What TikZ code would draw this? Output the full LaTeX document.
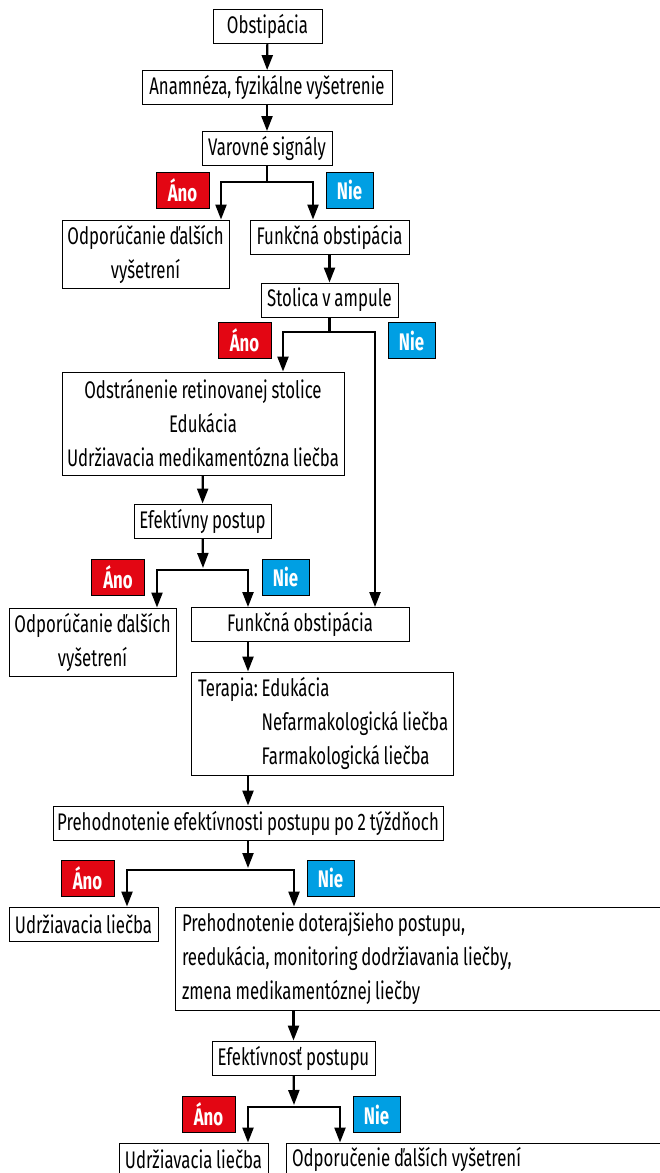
\documentclass[tikz,border=0pt]{standalone}
\usepackage{fontspec}
\setmainfont{Fira Sans}[FakeStretch=0.70, WordSpace=0.85]
\usepackage{tikz}
\usetikzlibrary{arrows.meta,positioning}
\definecolor{anored}{HTML}{E30613}
\definecolor{nieblue}{HTML}{009FE3}

\begin{document}
\begin{tikzpicture}[x=1pt,y=-1pt,
    >={Triangle[length=15pt,width=11pt]},
    line width=2.2pt,
    every node/.style={draw, line width=0.9pt, inner sep=0pt, minimum height=34pt,
      font=\fontsize{24}{34}\selectfont},
    ano/.style={fill=anored, text=white, minimum width=53pt, minimum height=36pt,
      font=\fontsize{24}{34}\selectfont\bfseries},
    nie/.style={fill=nieblue, text=white, minimum width=47pt, minimum height=36pt,
      font=\fontsize{24}{34}\selectfont\bfseries}]
  \useasboundingbox (0,0) rectangle (660,1173);

  \node[minimum width=109pt] (obst) at (267.5,26) {Obstipácia};
  \node[minimum width=250pt] (anam) at (267,87.5) {Anamnéza, fyzikálne vyšetrenie};
  \node[minimum width=130pt] (varov) at (267,148.5) {Varovné signály};
  \node[minimum width=167pt, minimum height=68pt, align=center] (odpor1) at (145.5,254)
    {Odporúčanie ďalších\\vyšetrení};
  \node[minimum width=159pt] (funk1) at (329.5,237) {Funkčná obstipácia};
  \node[minimum width=137pt] (stol) at (329.5,300) {Stolica v ampule};
  \node[minimum width=282pt, minimum height=103pt, align=center] (odstr) at (203,423.5)
    {Odstránenie retinovanej stolice\\Edukácia\\Udržiavacia medikamentózna liečba};
  \node[minimum width=137pt] (efekt) at (202.5,521) {Efektívny postup};
  \node[minimum width=167pt, minimum height=68pt, align=center] (odpor2) at (92.5,642)
    {Odporúčanie ďalších\\vyšetrení};
  \node[minimum width=218pt] (funk2) at (300,624.5) {Funkčná obstipácia};
  \node[minimum height=103pt, inner xsep=7pt] (terap) at (322,723.5)
    {\makebox[248pt][l]{\begin{tabular}{@{}l@{\ }l@{}}
      Terapia: & Edukácia\\
               & Nefarmakologická liečba\\
               & Farmakologická liečba
    \end{tabular}}};
  \node[minimum width=390pt] (preh) at (248,823) {Prehodnotenie efektívnosti postupu po 2 týždňoch};
  \node[minimum width=149pt] (udrz1) at (83.5,924) {Udržiavacia liečba};
  \node[minimum height=103pt, inner xsep=7pt] (prehd) at (418.5,958.5)
    {\makebox[473pt][l]{\begin{tabular}{@{}l@{}}
      Prehodnotenie doterajšieho postupu,\\
      reedukácia, monitoring dodržiavania liečby,\\
      zmena medikamentóznej liečby
    \end{tabular}}};
  \node[minimum width=163pt] (efns) at (293.5,1058) {Efektívnosť postupu};
  \node[minimum width=149pt, minimum height=32pt] (udrz2) at (193.5,1159) {Udržiavacia liečba};
  \node[inner xsep=6pt, minimum height=32pt] (odpor3) at (474,1159)
    {\makebox[364pt][l]{Odporučenie ďalších vyšetrení}};

  \node[ano] (ano1) at (182.5,190) {Áno};
  \node[nie] (nie1) at (349.5,190) {Nie};
  \node[ano] (ano2) at (244.5,340.5) {Áno};
  \node[nie] (nie2) at (411.5,340.5) {Nie};
  \node[ano] (ano3) at (118,577) {Áno};
  \node[nie] (nie3) at (285.5,577) {Nie};
  \node[ano] (ano4) at (87.5,878) {Áno};
  \node[nie] (nie4) at (330.5,878) {Nie};
  \node[ano] (ano5) at (208.5,1114.5) {Áno};
  \node[nie] (nie5) at (376.5,1114.5) {Nie};

  \coordinate (j1) at (267,182);
  \coordinate (j1l) at (221,182);
  \coordinate (j1r) at (313,182);
  \coordinate (j2) at (330,332);
  \coordinate (j2l) at (283,332);
  \coordinate (j2r) at (375,332);
  \coordinate (j3) at (203,568);
  \coordinate (j3l) at (157,570);
  \coordinate (j3r) at (248,570);
  \coordinate (j4) at (248,868);
  \coordinate (j4l) at (127,870);
  \coordinate (j4r) at (294,870);
  \coordinate (j5) at (294,1105);
  \coordinate (j5l) at (248,1107);
  \coordinate (j5r) at (340,1107);

  \draw[->] (obst) -- (anam);
  \draw[->] (anam) -- (varov);
  \draw (varov) -- (varov.south |- j1);
  \draw[<->] (j1l |- odpor1.north) -- (j1l) -- (j1r) -- (j1r |- funk1.north);
  \draw[->] (funk1) -- (stol);
  \draw (stol) -- (stol.south |- j2);
  \draw[<->] (j2l |- odstr.north) -- (j2l) -- (j2r) -- (j2r |- funk2.north);
  \draw[->] (odstr) -- (efekt);
  \draw[->] (efekt) -- (j3);
  \draw[<->] (j3l |- odpor2.north) -- (j3l) -- (j3r) -- (j3r |- funk2.north);
  \draw[->] (j3r |- funk2.south) -- (j3r |- terap.north);
  \draw[->] (terap.south -| preh.north) -- (preh);
  \draw[->] (preh) -- (j4);
  \draw[<->] (j4l |- udrz1.north) -- (j4l) -- (j4r) -- (j4r |- prehd.north);
  \draw[->] (prehd.south -| efns.north) -- (efns);
  \draw[->] (efns) -- (j5);
  \draw[<->] (j5l |- udrz2.north) -- (j5l) -- (j5r) -- (j5r |- odpor3.north);
\end{tikzpicture}
\end{document}
